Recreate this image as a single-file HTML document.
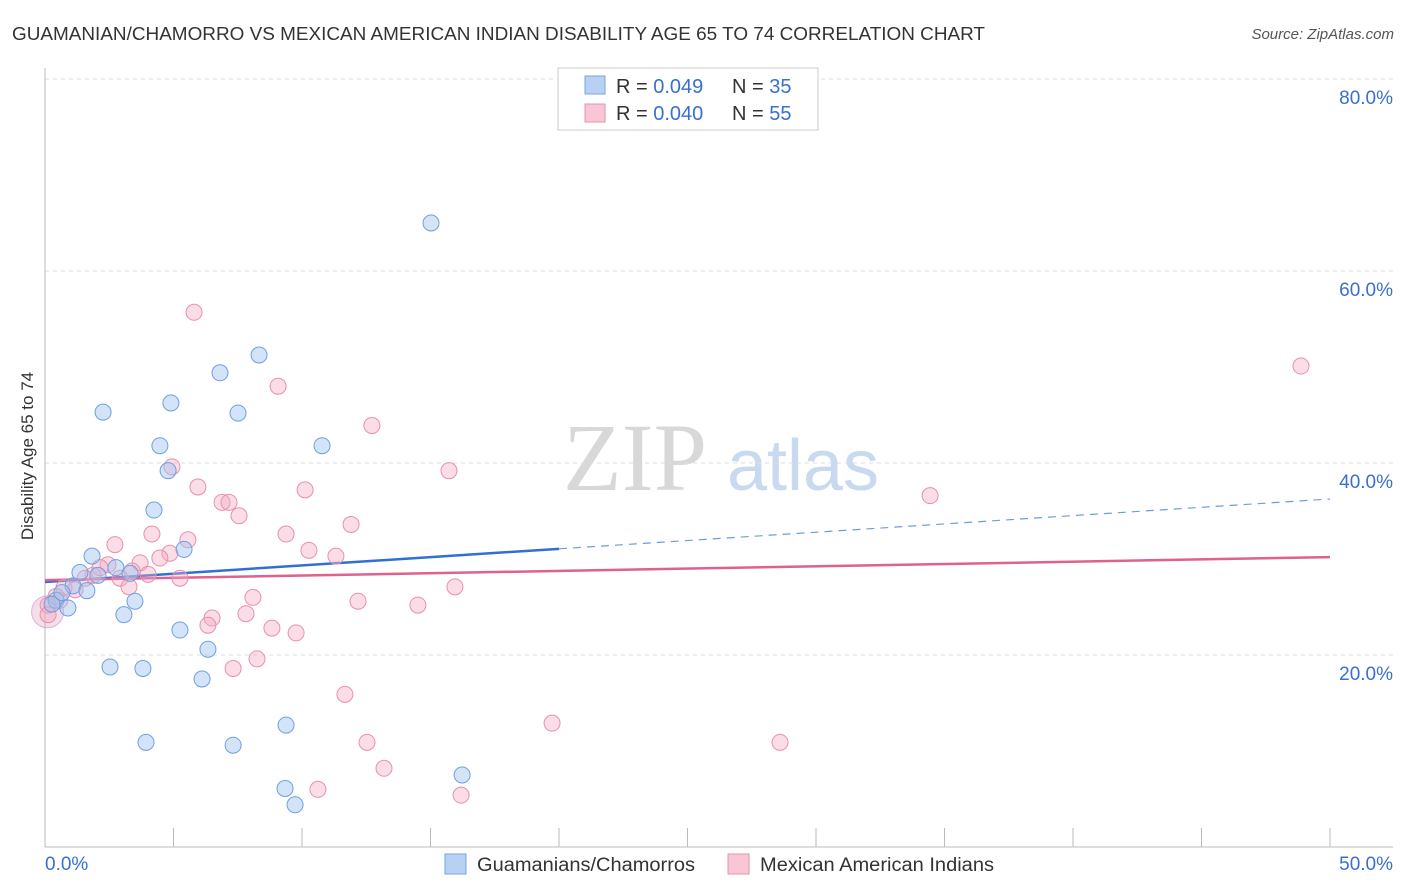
<!DOCTYPE html>
<html><head><meta charset="utf-8">
<style>
body{margin:0;background:#fff;font-family:"Liberation Sans",sans-serif;}
svg{display:block}
</style></head>
<body>
<svg id="chart" width="1406" height="892" xmlns="http://www.w3.org/2000/svg">
<text x="12" y="40" font-size="18" fill="#333" textLength="973" lengthAdjust="spacingAndGlyphs">GUAMANIAN/CHAMORRO VS MEXICAN AMERICAN INDIAN DISABILITY AGE 65 TO 74 CORRELATION CHART</text>
<text x="1394" y="39" font-size="15" fill="#555" font-style="italic" text-anchor="end">Source: ZipAtlas.com</text>
<text x="33" y="456" font-size="17" fill="#333" text-anchor="middle" transform="rotate(-90 33 456)">Disability Age 65 to 74</text>
<g>
<text x="635" y="490" font-size="96" fill="#d8d8d8" font-family="Liberation Serif,serif" text-anchor="middle">ZIP</text>
<text x="803" y="490" font-size="72" fill="#c9d9f0" text-anchor="middle">atlas</text>
</g>
<g id="grid"></g><g id="axes"></g><g id="trend"></g><g id="points"></g>
<g>
<rect x="558" y="68" width="260" height="62" fill="#fff" stroke="#ccc"/>
<rect x="585" y="76" width="20" height="18" fill="#b7d0f3" stroke="#7aa5e0"/>
<text x="616" y="93" font-size="20" fill="#333">R = <tspan fill="#3a6fd0">0.049</tspan></text>
<text x="732" y="93" font-size="20" fill="#333">N = <tspan fill="#3a6fd0">35</tspan></text>
<rect x="585" y="104" width="20" height="18" fill="#f8c6d5" stroke="#e890ab"/>
<text x="616" y="120" font-size="20" fill="#333">R = <tspan fill="#3a6fd0">0.040</tspan></text>
<text x="732" y="120" font-size="20" fill="#333">N = <tspan fill="#3a6fd0">55</tspan></text>
</g>
<g>
<rect x="445" y="854" width="21" height="20" fill="#b7d0f3" stroke="#7aa5e0"/>
<text x="477" y="871" font-size="19" fill="#333" textLength="218" lengthAdjust="spacingAndGlyphs">Guamanians/Chamorros</text>
<rect x="728" y="854" width="21" height="20" fill="#f8c6d5" stroke="#e890ab"/>
<text x="760" y="871" font-size="19" fill="#333" textLength="234" lengthAdjust="spacingAndGlyphs">Mexican American Indians</text>
</g>
</svg>
<script>
const yTicks=[20,40,60,80];
const xTickLabels=["0.0%","50.0%"];
const blueX=[15.02,8.33,6.81,4.90,2.26,7.51,4.47,10.78,4.79,4.24,5.41,1.83,2.76,1.36,2.06,3.31,1.09,1.63,0.43,0.89,3.50,3.07,5.25,6.34,2.53,3.81,6.11,9.38,3.93,7.32,16.23,9.34,9.73,0.27,0.66];
const blueY=[65.0,51.25,49.4,46.25,45.3,45.2,41.8,41.8,39.2,35.1,31.0,30.3,29.1,28.6,28.3,28.5,27.2,26.7,25.7,24.9,25.6,24.2,22.6,20.6,18.75,18.6,17.5,12.7,10.9,10.6,7.5,6.1,4.4,25.3,26.5];
const pinkX=[5.80,48.87,9.07,12.72,4.94,15.72,5.95,10.12,34.44,6.89,7.16,7.55,11.91,4.16,5.56,2.72,9.38,10.27,11.32,4.86,4.47,3.70,2.45,3.39,4.01,2.92,5.25,1.87,1.56,0.74,3.27,1.17,15.95,8.09,12.18,14.51,7.82,6.50,6.34,8.83,9.77,0.58,0.12,0.12,7.32,8.25,11.67,19.73,12.53,28.6,13.19,10.62,16.19,2.14,0.43];
const pinkY=[55.7,50.1,48.0,43.9,39.6,39.2,37.5,37.2,36.6,35.9,35.9,34.5,33.6,32.6,32.0,31.5,32.6,30.9,30.3,30.6,30.1,29.6,29.4,28.75,28.4,28.0,28.0,28.3,28.0,27.0,27.1,26.8,27.1,26.0,25.6,25.2,24.3,23.85,23.1,22.8,22.3,25.7,25.2,24.2,18.6,19.6,15.9,12.9,10.9,10.9,8.2,6.0,5.4,29.1,26.1];
const blueTrend=[27.6,36.25];
const pinkTrend=[27.8,30.2];
const blueSolidEnd=20;
const NS="http://www.w3.org/2000/svg";
const X=v=>45+v*25.7, Y=v=>847-v*9.6;
function mk(tag,attrs,parent){const e=document.createElementNS(NS,tag);for(const k in attrs)e.setAttribute(k,attrs[k]);document.getElementById(parent).appendChild(e);return e;}
yTicks.forEach(t=>{
 const l=mk('line',{x1:45,x2:1393,y1:Y(t),y2:Y(t),stroke:'#ddd','stroke-dasharray':'4,4'},'grid');
 
 
 const tx=mk('text',{x:1393,y:Y(t)+25,'font-size':19,fill:'#3a6fd0','text-anchor':'end'},'grid');
 tx.textContent=t.toFixed(1)+'%';
 
 
});
let a=mk('line',{x1:45,x2:1393,y1:847,y2:847,stroke:'#bbb'},'axes');


a=mk('line',{x1:45,x2:45,y1:68,y2:847,stroke:'#bbb'},'axes');


for(let i=0;i<=10;i++){
 const t=mk('line',{x1:X(i*5),x2:X(i*5),y1:828,y2:847,stroke:'#bbb'},'axes');
 
 
}
[[0,'start',45],[50,'end',1393]].forEach((d,i)=>{
 const t=mk('text',{x:d[2],y:870,'font-size':19,fill:'#3a6fd0','text-anchor':d[1]},'axes');
 t.textContent=xTickLabels[i];
 
 
});
function ty(tr,x){return tr[0]+(tr[1]-tr[0])*x/50;}
let l=mk('line',{x1:X(0),y1:Y(ty(blueTrend,0)),x2:X(blueSolidEnd),y2:Y(ty(blueTrend,blueSolidEnd)),stroke:'#2f6fd6','stroke-width':2.5},'trend');


l=mk('line',{x1:X(blueSolidEnd),y1:Y(ty(blueTrend,blueSolidEnd)),x2:X(50),y2:Y(ty(blueTrend,50)),stroke:'#6f9be0','stroke-width':1.2,'stroke-dasharray':'8,6'},'trend');


l=mk('line',{x1:X(0),y1:Y(ty(pinkTrend,0)),x2:X(50),y2:Y(ty(pinkTrend,50)),stroke:'#e0608e','stroke-width':2.5},'trend');


let big=mk('circle',{cx:X(0.1),cy:Y(24.5),r:16,fill:'rgba(230,160,190,0.35)',stroke:'rgba(200,140,200,0.6)'},'points');


pinkX.forEach((x,i)=>{
 const c=mk('circle',{cx:X(x),cy:Y(pinkY[i]),r:8,fill:'rgba(245,170,195,0.4)',stroke:'#e890ab','stroke-width':1},'points');
 
 
});
blueX.forEach((x,i)=>{
 const c=mk('circle',{cx:X(x),cy:Y(blueY[i]),r:8,fill:'rgba(160,195,240,0.45)',stroke:'#6f9fe0','stroke-width':1},'points');
 
 
});
</script>
</body></html>
